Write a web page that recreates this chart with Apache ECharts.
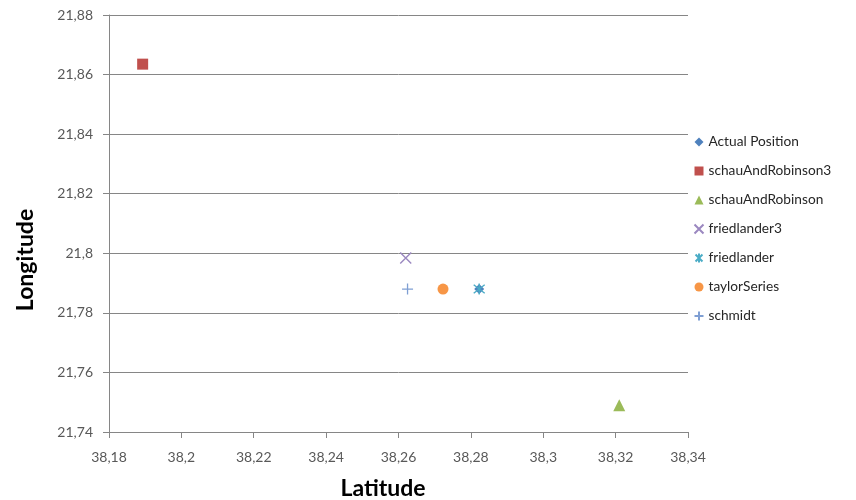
<!DOCTYPE html>
<html>
<head>
<meta charset="utf-8">
<script src="https://cdn.jsdelivr.net/npm/echarts@6/dist/echarts.min.js"></script>
<style>html,body{margin:0;padding:0;background:#fff}#c{width:856px;height:500px}</style>
</head>
<body>
<div id="c"></div>
<script>
var seriesNames = ['Actual Position','schauAndRobinson3','schauAndRobinson','friedlander3','friedlander','taylorSeries','schmidt'];
var latitudes  = [38.2823, 38.1893, 38.321, 38.262, 38.2823, 38.2723, 38.2625];
var longitudes = [21.788, 21.8635, 21.749, 21.7984, 21.788, 21.788, 21.788];
var xTicks = {min: 38.18, max: 38.34, interval: 0.02};
var yTicks = {min: 21.74, max: 21.88, interval: 0.02};

var styles = [
  {symbol:'diamond', size:10, item:{color:'#4F81BD', opacity:1}},
  {symbol:'rect', size:11, item:{color:'#C0504D', opacity:1}},
  {symbol:'triangle', size:12, item:{color:'#9BBB59', opacity:1}},
  {symbol:'path://M0,0L10,10M10,0L0,10', size:11, item:{color:'none', borderColor:'#9B88C0', borderWidth:1.4, opacity:1}},
  {symbol:'path://M0,0L10,10M10,0L0,10M5,-1.5L5,11.5', size:11, item:{color:'none', borderColor:'#4BACC6', borderWidth:1.4, opacity:1}},
  {symbol:'circle', size:11, item:{color:'#F79646', opacity:1}},
  {symbol:'path://M0,5L10,5M5,0L5,10', size:11, item:{color:'none', borderColor:'#7F9FD3', borderWidth:1.3, opacity:1}}
];

function fmt(v){ return String(+(+v).toFixed(2)).replace('.', ','); }

var series = seriesNames.map(function(n, i){
  return {
    name: n, type: 'scatter',
    symbol: styles[i].symbol, symbolSize: styles[i].size,
    itemStyle: styles[i].item,
    emphasis: {disabled: true},
    data: [[latitudes[i], longitudes[i]]]
  };
});

var chart = echarts.init(document.getElementById('c'), null, {renderer:'canvas'});
chart.setOption({
  animation: false,
  textStyle: {fontFamily: 'Lato'},
  grid: {left: 109, right: 168, top: 15, bottom: 68, containLabel: false, outerBoundsMode: 'none'},
  legend: {
    orient: 'vertical', left: 687, top: 130, itemGap: 15, itemWidth: 9, itemHeight: 9,
    padding: 5,
    textStyle: {fontSize: 13.7, color: '#262626', fontFamily: 'Lato'},
    data: seriesNames
  },
  xAxis: {
    type: 'value', min: xTicks.min, max: xTicks.max, interval: xTicks.interval,
    name: 'Latitude', nameLocation: 'middle', nameGap: 45,
    nameTextStyle: {fontSize: 23, fontWeight: 'bold', color: '#000', padding: [0, 31, 0, 0]},
    axisLine: {show: true, lineStyle: {color: '#868686'}},
    axisTick: {show: true, length: 6, lineStyle: {color: '#868686'}},
    axisLabel: {formatter: fmt, fontSize: 14, color: '#595959', margin: 18},
    splitLine: {show: false}
  },
  yAxis: {
    type: 'value', min: yTicks.min, max: yTicks.max, interval: yTicks.interval,
    name: 'Longitude', nameLocation: 'middle', nameGap: 72, nameRotate: 90,
    nameTextStyle: {fontSize: 23, fontWeight: 'bold', color: '#000', padding: [0, 73, 0, 0]},
    axisLine: {show: true, lineStyle: {color: '#868686'}},
    axisTick: {show: true, length: 6, lineStyle: {color: '#868686'}},
    axisLabel: {formatter: fmt, fontSize: 14, color: '#595959', margin: 16},
    splitLine: {show: true, lineStyle: {color: '#868686'}}
  },
  series: series
});
</script>
</body>
</html>
